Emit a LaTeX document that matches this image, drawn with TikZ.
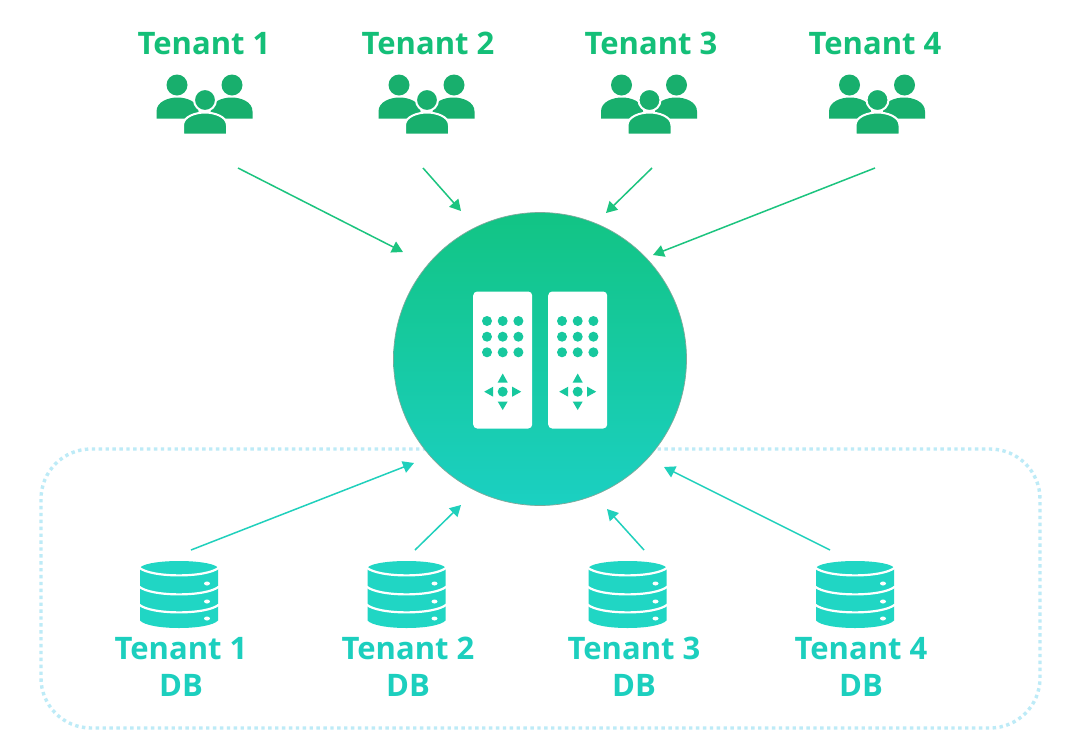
\documentclass[tikz,border=0pt]{standalone}
\usepackage{fontspec}
\setmainfont{Open Sans}
\usetikzlibrary{arrows.meta}
\definecolor{tgreen}{HTML}{14BF78}
\definecolor{pgreen}{HTML}{18AF6D}
\definecolor{agreen}{HTML}{1CC47F}
\definecolor{tteal}{HTML}{1CCFBE}
\definecolor{dteal}{HTML}{20D6C4}
\definecolor{ateal}{HTML}{20D0BC}
\definecolor{hubtop}{HTML}{12C484}
\definecolor{hubbot}{HTML}{1BD0C2}
\definecolor{dotc}{HTML}{BDEBF7}
\definecolor{remc}{HTML}{17C89E}
\definecolor{hubedge}{HTML}{7FA89A}
\tikzset{
  toplabel/.style={font=\fontsize{31}{36}\selectfont\bfseries,text=tgreen,inner sep=0pt,anchor=center},
  dblabel/.style={font=\fontsize{31}{36.5}\selectfont\bfseries,text=tteal,inner sep=0pt,align=center,anchor=center},
  inarrow/.style={agreen,line width=1.5pt,-{Triangle[length=11pt,width=12pt]}},
  outarrow/.style={ateal,line width=1.5pt,-{Triangle[length=11pt,width=12pt]}},
  hubnode/.style={circle,minimum size=293pt,inner sep=0pt,draw=hubedge,line width=0.7pt,top color=hubtop,bottom color=hubbot},
  people/.pic={
    \fill[pgreen] (-27.5,-19.5) circle (10.5);
    \fill[pgreen] (27.5,-19.5) circle (10.5);
    \fill[pgreen] (-48,14) -- (-48,7) .. controls (-48,-3) and (-36,-7) .. (-27,-7) .. controls (-18,-7) and (-6,-3) .. (-6,7) -- (-6,14) -- cycle;
    \fill[pgreen] (48,14) -- (48,7) .. controls (48,-3) and (36,-7) .. (27,-7) .. controls (18,-7) and (6,-3) .. (6,7) -- (6,14) -- cycle;
    \fill[pgreen,draw=white,line width=2pt] (0.5,-4.5) circle (11);
    \fill[pgreen,draw=white,line width=2pt] (-21.5,30) -- (-21.5,21) .. controls (-21.5,12) and (-9,8) .. (0.5,8) .. controls (10,8) and (22.5,12) .. (22.5,21) -- (22.5,30) -- cycle;
  },
  dbicon/.pic={
    \fill[dteal] (-39,-26) arc[start angle=180,end angle=360,x radius=39,y radius=7.5]
      -- (39,26) .. controls (30,36) and (-30,36) .. (-39,26) -- cycle;
    \foreach \yy in {-27,-8,10}{
      \draw[white,line width=2.2pt] (-40,\yy) .. controls (-28,\yy+10.5) and (28,\yy+10.5) .. (40,\yy);
    }
    \foreach \yy in {-11,7,24}{
      \fill[white] (28,\yy) ellipse (3 and 2);
    }
  },
  remote/.pic={
    \fill[white,rounded corners=4pt] (-29.5,-68.5) rectangle (29.5,68.5);
    \foreach \xx in {-15.7,0,15.7}{
      \foreach \yy in {-39,-23.3,-7.7}{
        \fill[remc] (\xx,\yy) circle (5);
      }
    }
    \fill[remc] (0,31.7) circle (5);
    \fill[remc] (0,13.5) -- (5,22.5) -- (-5,22.5) -- cycle;
    \fill[remc] (0,50) -- (5,41.5) -- (-5,41.5) -- cycle;
    \fill[remc] (-18.5,31.7) -- (-9.5,26.7) -- (-9.5,36.7) -- cycle;
    \fill[remc] (18.5,31.7) -- (9.5,26.7) -- (9.5,36.7) -- cycle;
  }
}
\begin{document}
\begin{tikzpicture}[x=1pt,y=-1pt]
\useasboundingbox (0,0) rectangle (1080,745);
\fill[white] (0,0) rectangle (1080,745);

\draw[dotc,line width=3.4pt,dash pattern=on 3.4pt off 3.5pt,rounded corners=50pt] (41,449) rectangle (1040,728);

\node[hubnode] (hub) at (540,359) {};
\pic at (502.7,360) {remote};
\pic at (577.7,360) {remote};

\foreach \n/\lx/\ix in {1/204/204.5,2/428/426.5,3/651/649,4/875/877}{
  \node[toplabel] (T\n) at (\lx,43.5) {Tenant \n};
  \pic at (\ix,104.5) {people};
}
\foreach \n/\lx/\ix in {1/181/179,2/408/406.5,3/634/627.5,4/861/855}{
  \pic at (\ix,594.5) {dbicon};
  \node[dblabel] (D\n) at (\lx,667) {Tenant \n\\DB};
}

\coordinate (a1s) at (238,168); \coordinate (a1e) at (403,252);
\coordinate (a2s) at (423,168); \coordinate (a2e) at (461,211);
\coordinate (a3s) at (652,168); \coordinate (a3e) at (606,213);
\coordinate (a4s) at (875,168); \coordinate (a4e) at (653,255);
\coordinate (b1s) at (191,550); \coordinate (b1e) at (414,463);
\coordinate (b2s) at (415,550); \coordinate (b2e) at (461,505);
\coordinate (b3s) at (644,550); \coordinate (b3e) at (607,509);
\coordinate (b4s) at (830,550); \coordinate (b4e) at (664,467);
\foreach \n in {1,2,3,4}{
  \draw[inarrow] (a\n s) -- (a\n e);
  \draw[outarrow] (b\n s) -- (b\n e);
}
\end{tikzpicture}
\end{document}
